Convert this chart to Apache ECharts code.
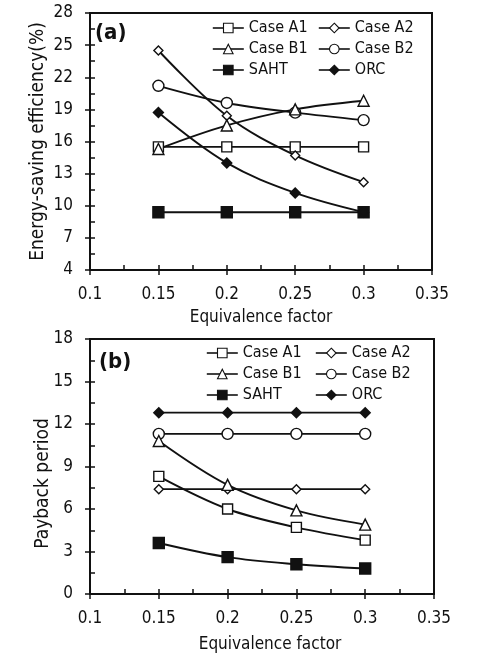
<!doctype html>
<html>
<head>
<meta charset="utf-8">
<title>Energy-saving efficiency and payback period</title>
<script src="https://cdn.jsdelivr.net/npm/echarts@6/dist/echarts.min.js"></script>
<style>
  html, body { margin: 0; padding: 0; background: #fff; }
  #chart { width: 477px; height: 655px; }
</style>
</head>
<body>
<div id="chart"></div>
<script>
// equivalence factor (x values)
var factors = [0.15, 0.2, 0.25, 0.3];
var xTicks = [0.1, 0.35, 0.05];

// (a) energy-saving efficiency (%)
var effA1 = [15.5, 15.5, 15.5, 15.5];
var effA2 = [24.5, 18.4, 14.7, 12.2];
var effB1 = [15.3, 17.5, 19.0, 19.8];
var effB2 = [21.2, 19.6, 18.7, 18.0];
var effSAHT = [9.4, 9.4, 9.4, 9.4];
var effORC = [18.7, 14.0, 11.2, 9.4];

// (b) payback period
var payA1 = [8.3, 6.0, 4.7, 3.8];
var payA2 = [7.4, 7.4, 7.4, 7.4];
var payB1 = [10.8, 7.7, 5.9, 4.9];
var payB2 = [11.3, 11.3, 11.3, 11.3];
var paySAHT = [3.6, 2.6, 2.1, 1.8];
var payORC = [12.8, 12.8, 12.8, 12.8];

var FONT = '"DejaVu Sans Condensed", "DejaVu Sans", sans-serif';
var INK = '#111';

function pairs(vals) {
    var out = [];
    for (var i = 0; i < factors.length; i++) out.push([factors[i], vals[i]]);
    return out;
}

// marker style per case: [symbol, size, filled]
var marks = {
    'Case A1': ['rect', 10, false],
    'Case A2': ['diamond', 9, false],
    'Case B1': ['triangle', 11, false],
    'Case B2': ['circle', 11, false],
    'SAHT': ['rect', 11, true],
    'ORC': ['diamond', 10, true]
};

function line(name, vals, gi) {
    var m = marks[name];
    return {
        name: name,
        type: 'line',
        xAxisIndex: gi * 2,
        yAxisIndex: gi * 2,
        data: pairs(vals),
        smooth: 0.35,
        symbol: m[0],
        symbolSize: m[1],
        showSymbol: true,
        lineStyle: { color: INK, width: 1.9 },
        itemStyle: { color: m[2] ? INK : '#fff', borderColor: INK, borderWidth: 1.4 },
        emphasis: { disabled: true },
        animation: false
    };
}

// main axis (labels + outside half of the major tick)
function xMain(gi, nameGap, namePad) {
    return {
        type: 'value', gridIndex: gi, min: xTicks[0], max: xTicks[1], interval: xTicks[2],
        name: 'Equivalence factor', nameLocation: 'middle', nameGap: nameGap,
        nameTextStyle: { fontFamily: FONT, fontSize: 17, color: INK, padding: namePad },
        axisLine: { lineStyle: { color: INK, width: 2 } },
        axisTick: { inside: false, length: 5, lineStyle: { color: INK, width: 1.5 } },
        axisLabel: { fontFamily: FONT, fontSize: 17, color: INK, margin: 16 },
        splitLine: { show: false }
    };
}
// overlay axis (inside half of major tick + minor ticks)
function xInner(gi) {
    return {
        type: 'value', gridIndex: gi, min: xTicks[0], max: xTicks[1], interval: xTicks[2],
        position: 'bottom',
        axisLine: { show: false },
        axisTick: { inside: true, length: 5, lineStyle: { color: INK, width: 1.5 } },
        minorTick: { show: true, splitNumber: 2, length: 5, lineStyle: { color: INK, width: 1.5 } },
        axisLabel: { show: false },
        splitLine: { show: false }
    };
}
function yMain(gi, min, max, step, name, nameGap, namePad) {
    return {
        type: 'value', gridIndex: gi, min: min, max: max, interval: step, position: 'left',
        name: name, nameLocation: 'middle', nameGap: nameGap, nameMoveOverlap: false,
        nameTextStyle: { fontFamily: FONT, fontSize: 19, color: INK, padding: namePad },
        axisLine: { show: true, lineStyle: { color: INK, width: 2 } },
        axisTick: { show: true, inside: false, length: 5, lineStyle: { color: INK, width: 1.5 } },
        axisLabel: { fontFamily: FONT, fontSize: 17, color: INK, margin: 17 },
        splitLine: { show: false }
    };
}
function yInner(gi, min, max, step) {
    return {
        type: 'value', gridIndex: gi, min: min, max: max, interval: step, position: 'left',
        axisLine: { show: false },
        axisTick: { show: true, inside: true, length: 5, lineStyle: { color: INK, width: 1.5 } },
        minorTick: { show: true, splitNumber: 2, length: 5, lineStyle: { color: INK, width: 1.5 } },
        axisLabel: { show: false },
        splitLine: { show: false }
    };
}

function legend(left, top, names) {
    return {
        left: left, top: top, orient: 'vertical', padding: 0,
        itemWidth: 31, itemHeight: 12, itemGap: 5,
        selectedMode: false,
        data: names,
        lineStyle: { width: 1.6, color: INK },
        itemStyle: { borderWidth: 1.1, borderColor: INK },
        textStyle: { fontFamily: FONT, fontSize: 16, color: INK, lineHeight: 16 }
    };
}

var chart = echarts.init(document.getElementById('chart'), null, { renderer: 'canvas' });
chart.setOption({
    backgroundColor: '#fff',
    animation: false,
    title: [
        { text: '(a)', left: 95, top: 22, padding: 0,
          textStyle: { fontFamily: FONT, fontSize: 22, fontWeight: 'bold', color: INK } },
        { text: '(b)', left: 99, top: 351, padding: 0,
          textStyle: { fontFamily: FONT, fontSize: 22, fontWeight: 'bold', color: INK } }
    ],
    grid: [
        { left: 90, top: 13, width: 342, height: 257, show: true, borderColor: INK, borderWidth: 2 },
        { left: 90, top: 339, width: 344, height: 255, show: true, borderColor: INK, borderWidth: 2 }
    ],
    legend: [
        legend(212, 20, ['Case A1', 'Case B1', 'SAHT']),
        legend(318, 20, ['Case A2', 'Case B2', 'ORC']),
        legend(206, 345, ['Case A1', 'Case B1', 'SAHT']),
        legend(315, 345, ['Case A2', 'Case B2', 'ORC'])
    ],
    xAxis: [
        xMain(0, 39, [0, 0, 0, 0]), xInner(0),
        xMain(1, 42, [0, 0, 0, 16]), xInner(1)
    ],
    yAxis: [
        yMain(0, 4, 28, 3, 'Energy-saving efficiency(%)', 42, [0, 0, 0, 0]), yInner(0, 4, 28, 3),
        yMain(1, 0, 18, 3, 'Payback period', 37, [0, 34, 0, 0]), yInner(1, 0, 18, 3)
    ],
    series: [
        line('Case A1', effA1, 0),
        line('Case A2', effA2, 0),
        line('Case B2', effB2, 0),
        line('SAHT', effSAHT, 0),
        line('ORC', effORC, 0),
        line('Case B1', effB1, 0),
        line('Case A2', payA2, 1),
        line('Case B2', payB2, 1),
        line('ORC', payORC, 1),
        line('Case A1', payA1, 1),
        line('Case B1', payB1, 1),
        line('SAHT', paySAHT, 1)
    ]
});
</script>
</body>
</html>
